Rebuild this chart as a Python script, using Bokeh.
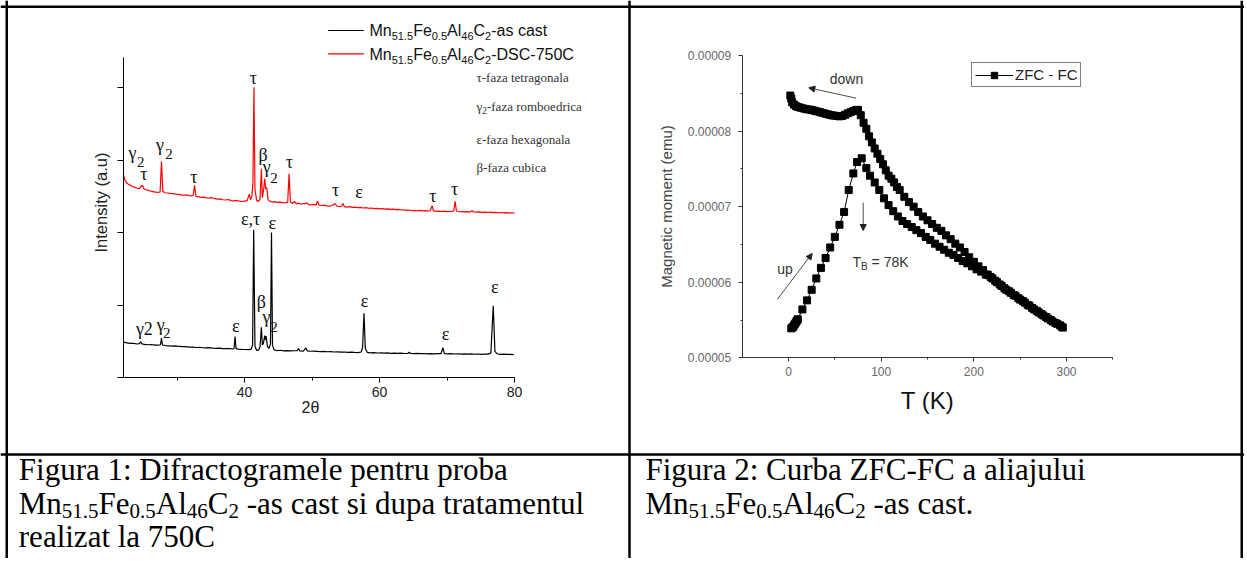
import numpy as np
from bokeh.plotting import figure
from bokeh.models import (Range1d, LinearAxis, FixedTicker, PrintfTickFormatter, Legend,
                          LegendItem, Arrow, NormalHead, ColumnDataSource)
from bokeh.core.properties import value
from bokeh.embed import file_html
from bokeh.resources import INLINE

# ---------------- Figure 1 data: XRD patterns ----------------
as_cast_2theta = [22.1, 22.6, 23.1, 23.6, 24.1, 24.4, 24.6, 24.8, 25.2, 25.7,
                  26.2, 26.7, 27.2, 27.55, 27.7, 27.85, 28.3, 28.8, 29.3, 29.8,
                  30.3, 30.8, 31.3, 31.8, 32.3, 32.8, 33.3, 33.8, 34.3, 34.8,
                  35.3, 35.8, 36.3, 36.8, 37.3, 37.8, 38.3, 38.45, 38.6, 38.75,
                  39.1, 39.6, 40.1, 40.6, 41.0, 41.2, 41.36, 41.55, 41.8, 42.1,
                  42.3, 42.5, 42.65, 42.8, 43.0, 43.1, 43.2, 43.4, 43.6, 43.85,
                  44.0, 44.15, 44.4, 44.8, 45.3, 45.8, 46.3, 46.8, 47.3, 47.8,
                  48.0, 48.2, 48.7, 49.1, 49.3, 49.8, 50.3, 50.8, 51.3, 51.8,
                  52.3, 52.8, 53.3, 53.8, 54.3, 54.8, 55.3, 55.8, 56.3, 56.8,
                  57.3, 57.5, 57.7, 57.9, 58.2, 58.7, 59.2, 59.7, 60.2, 60.7,
                  61.2, 61.7, 62.2, 62.7, 63.2, 63.7, 64.2, 64.4, 64.6, 65.1,
                  65.6, 66.1, 66.6, 67.1, 67.6, 68.1, 68.6, 69.1, 69.4, 69.6,
                  70.1, 70.6, 71.1, 71.6, 72.1, 72.6, 73.1, 73.6, 74.1, 74.6,
                  75.1, 75.6, 76.1, 76.5, 76.85, 77.1, 77.4, 77.9, 78.4, 78.9,
                  79.4, 79.9]
as_cast_I = [487, 478, 472, 470, 462, 468, 492, 463, 458, 452,
             455, 447, 446, 452, 542, 448, 440, 437, 434, 436,
             428, 425, 427, 419, 418, 414, 417, 410, 408, 411,
             404, 402, 405, 398, 397, 399, 393, 400, 566, 398,
             391, 388, 386, 384, 392, 450, 2037, 430, 372, 378,
             420, 694, 450, 470, 579, 520, 570, 430, 400, 460,
             2000, 440, 380, 372, 376, 368, 370, 366, 369, 372,
             400, 366, 364, 408, 366, 362, 365, 360, 358, 361,
             355, 357, 352, 354, 350, 352, 347, 349, 346, 344,
             352, 420, 887, 400, 346, 340, 342, 338, 340, 336,
             339, 334, 337, 333, 335, 331, 334, 348, 332, 330,
             333, 329, 331, 327, 330, 326, 329, 328, 410, 330,
             325, 328, 324, 327, 323, 326, 322, 325, 321, 324,
             320, 323, 322, 340, 989, 360, 328, 320, 322, 318,
             320, 316]

dsc750_2theta = [22.1, 22.3, 22.6, 22.9, 23.2, 23.5, 23.8, 24.1, 24.4, 24.7,
                 24.9, 25.1, 25.4, 25.7, 26.0, 26.3, 26.6, 26.9, 27.2, 27.5,
                 27.7, 27.9, 28.2, 28.6, 29.0, 29.4, 29.8, 30.2, 30.6, 31.0,
                 31.4, 31.8, 32.2, 32.4, 32.6, 32.8, 33.2, 33.6, 34.0, 34.4,
                 34.8, 35.2, 35.6, 36.0, 36.4, 36.8, 37.2, 37.6, 38.0, 38.4,
                 38.8, 39.2, 39.6, 40.0, 40.4, 40.7, 40.9, 41.1, 41.25, 41.4,
                 41.55, 41.8, 42.1, 42.3, 42.5, 42.65, 42.85, 43.0, 43.15, 43.3,
                 43.5, 43.8, 44.1, 44.5, 44.9, 45.3, 45.7, 46.1, 46.4, 46.6,
                 46.8, 47.1, 47.4, 47.7, 48.0, 48.3, 48.7, 49.0, 49.2, 49.5,
                 49.9, 50.3, 50.6, 50.8, 51.0, 51.4, 51.8, 52.2, 52.6, 53.0,
                 53.4, 53.7, 54.1, 54.4, 54.6, 54.8, 55.2, 55.6, 56.0, 56.4,
                 56.8, 57.2, 57.6, 58.0, 58.4, 58.8, 59.2, 59.6, 60.0, 60.4,
                 60.8, 61.2, 61.6, 62.0, 62.4, 62.8, 63.2, 63.6, 64.0, 64.4,
                 64.8, 65.2, 65.6, 66.0, 66.4, 66.8, 67.2, 67.5, 67.8, 68.0,
                 68.4, 68.8, 69.2, 69.6, 70.0, 70.4, 70.8, 71.0, 71.2, 71.4,
                 71.8, 72.2, 72.6, 73.0, 73.4, 73.7, 74.0, 74.4, 74.8, 75.2,
                 75.6, 76.0, 76.4, 76.8, 77.2, 77.6, 78.0, 78.4, 78.8, 79.2,
                 79.6, 80.0]
dsc750_I = [2786, 2720, 2680, 2660, 2645, 2630, 2622, 2610, 2605, 2640,
            2650, 2600, 2590, 2585, 2572, 2568, 2560, 2558, 2552, 2560,
            2980, 2570, 2548, 2545, 2540, 2536, 2530, 2525, 2520, 2514,
            2518, 2508, 2504, 2510, 2650, 2500, 2492, 2484, 2488, 2478,
            2474, 2480, 2466, 2460, 2464, 2452, 2448, 2455, 2440, 2436,
            2442, 2432, 2428, 2434, 2440, 2530, 2450, 2500, 2700, 4004,
            2600, 2440, 2430, 2460, 2880, 2480, 2600, 2740, 2600, 2620,
            2450, 2430, 2420, 2425, 2415, 2418, 2408, 2412, 2420, 2810,
            2420, 2400, 2430, 2395, 2405, 2390, 2400, 2395, 2410, 2385,
            2380, 2388, 2378, 2430, 2380, 2372, 2378, 2368, 2365, 2372,
            2400, 2362, 2358, 2365, 2400, 2356, 2350, 2356, 2346, 2350,
            2342, 2346, 2338, 2342, 2334, 2338, 2330, 2333, 2326, 2330,
            2322, 2326, 2318, 2322, 2315, 2318, 2310, 2314, 2306, 2310,
            2303, 2306, 2300, 2304, 2298, 2301, 2295, 2300, 2370, 2298,
            2292, 2296, 2290, 2294, 2288, 2292, 2290, 2300, 2430, 2296,
            2286, 2290, 2284, 2288, 2282, 2300, 2283, 2280, 2284, 2278,
            2282, 2276, 2280, 2274, 2278, 2272, 2276, 2270, 2274, 2268,
            2272, 2266]

xrd_x_ticks = [40, 60, 80]
xrd_x_minor = [30, 50, 70]
xrd_y_ticks = [0, 1000, 2000, 3000, 4000]

# peak labels: (text, 2theta, intensity, font px)
peak_labels_red = [("γ", 23.39, 3039, 18), ("2", 24.62, 2970, 15), ("τ", 25.1, 2777, 18),
                   ("γ", 27.48, 3154, 18), ("2", 28.81, 3086, 15), ("τ", 32.51, 2741, 18),
                   ("τ", 41.31, 4106, 18), ("β", 42.74, 3048, 18), ("γ", 43.29, 2855, 18),
                   ("2", 44.37, 2754, 15), ("τ", 46.65, 2948, 18), ("τ", 53.51, 2556, 18),
                   ("ε", 56.96, 2534, 18), ("τ", 67.92, 2473, 18), ("τ", 71.14, 2579, 18)]
peak_labels_black = [("γ2", 25.17, 641, 18), ("γ", 27.58, 672, 18), ("2", 28.47, 611, 15),
                     ("ε", 38.69, 680, 18), ("ε,τ", 40.91, 2156, 18), ("ε", 44.13, 2110, 18),
                     ("β", 42.5, 1017, 18), ("γ", 43.24, 786, 18), ("2", 44.37, 703, 15),
                     ("ε", 57.8, 1025, 18), ("ε", 69.8, 570, 18), ("ε", 77.06, 1223, 18)]

# ---------------- Figure 2 data: ZFC - FC ----------------
fc_T = [2, 3, 4, 6, 8, 10, 13, 16, 19, 22, 25, 28, 31, 34, 37, 40, 43, 46, 49, 52, 55, 58,
        61, 64, 67, 70, 73, 75, 78, 81, 84, 87, 90, 93, 96, 99, 102, 105, 108, 111, 114, 117,
        120, 125, 130, 135, 140, 145, 150, 155, 160, 165, 170, 175, 180, 185, 190, 195, 200,
        205, 210, 215, 220, 225, 230, 235, 240, 245, 250, 255, 260, 265, 270, 275, 280, 285,
        290, 295]
fc_M_1e5 = [8.47, 8.43, 8.38, 8.35, 8.33, 8.32, 8.31, 8.30, 8.29, 8.285, 8.28, 8.27, 8.26,
            8.25, 8.24, 8.23, 8.22, 8.21, 8.205, 8.20, 8.195, 8.20, 8.215, 8.235, 8.25, 8.265,
            8.28, 8.28, 8.21, 8.11, 8.03, 7.93, 7.85, 7.77, 7.70, 7.63, 7.56, 7.48, 7.41, 7.37,
            7.32, 7.26, 7.22, 7.13, 7.06, 7.00, 6.93, 6.87, 6.82, 6.77, 6.72, 6.68, 6.62, 6.57,
            6.51, 6.46, 6.40, 6.33, 6.27, 6.21, 6.16, 6.10, 6.05, 6.00, 5.95, 5.90, 5.86, 5.82,
            5.77, 5.73, 5.69, 5.64, 5.60, 5.56, 5.52, 5.48, 5.45, 5.41]
zfc_T = [3, 4, 5, 6, 7, 8, 9, 10, 15, 20, 25, 30, 35, 40, 45, 50, 55, 60, 65, 70, 74, 79, 84,
         88, 93, 98, 103, 108, 113, 118, 123, 128, 133, 138, 143, 148, 153, 158, 163, 168, 173,
         178, 183, 188, 193, 198, 203, 208, 213, 218, 223, 228, 233, 238, 243, 248, 253, 258,
         263, 268, 273, 278, 283, 288, 293, 296]
zfc_M_1e5 = [5.39, 5.40, 5.41, 5.43, 5.45, 5.47, 5.49, 5.51, 5.64, 5.76, 5.90, 6.05, 6.19,
             6.32, 6.46, 6.60, 6.76, 6.93, 7.22, 7.44, 7.59, 7.64, 7.51, 7.41, 7.32, 7.22,
             7.11, 7.02, 6.94, 6.87, 6.81, 6.77, 6.73, 6.69, 6.65, 6.60, 6.56, 6.51, 6.47,
             6.43, 6.39, 6.36, 6.32, 6.28, 6.25, 6.21, 6.17, 6.14, 6.10, 6.07, 6.02, 5.97,
             5.92, 5.88, 5.83, 5.79, 5.75, 5.70, 5.66, 5.62, 5.58, 5.54, 5.50, 5.46, 5.43, 5.40]
mag_y_ticks = [5e-5, 6e-5, 7e-5, 8e-5, 9e-5]
mag_y_minor = [5.5e-5, 6.5e-5, 7.5e-5, 8.5e-5]
mag_x_ticks = [0, 100, 200, 300]
mag_x_minor = [50, 150, 250, 350]

# ---------------- text metrics (Arial / Times compatible) ----------------
SANS_W = {' ': .278, '-': .333, '.': .278, '=': .584, 'A': .667, 'B': .667, 'C': .722,
          'D': .722, 'F': .611, 'K': .667, 'M': .833, 'S': .667, 'T': .611, 'a': .556,
          'c': .5, 'e': .556, 'l': .222, 'n': .556, 's': .5, 't': .278}
SERIF_W = {' ': .25, '-': .333, '.': .25, ':': .278, 'A': .722, 'C': .667, 'F': .556, 'M': .889,
           'Z': .611, 'a': .444, 'b': .5, 'c': .444, 'd': .5, 'e': .444, 'f': .333, 'g': .5,
           'i': .278, 'j': .278, 'l': .278, 'm': .778, 'n': .5, 'o': .5, 'p': .5, 'r': .333,
           's': .389, 't': .278, 'u': .5, 'x': .5, 'z': .444, 'γ': .42}
for d in "0123456789":
    SANS_W[d] = .556
    SERIF_W[d] = .5

FORMULA = [("Mn", 0), ("51.5", 1), ("Fe", 0), ("0.5", 1), ("Al", 0), ("46", 1), ("C", 0), ("2", 1)]

W, H = 1244, 558
SANS = "Liberation Sans"
SERIF = "Liberation Serif"
MID = {SANS: 0.35, SERIF: 0.34}   # em distance from baseline up to the text's middle

p = figure(width=W, height=H, x_range=Range1d(0, W), y_range=Range1d(H, 0),
           x_axis_location=None, y_axis_location=None, toolbar_location=None, tools="",
           output_backend="svg", min_border=0, outline_line_color=None,
           background_fill_color="white", border_fill_color="white")
p.min_border_left = p.min_border_right = p.min_border_top = p.min_border_bottom = 0
for g in p.grid:
    g.visible = False

# coordinate systems of the two charts, placed on the page canvas
s1x, s1y = 6.75, 0.0725          # px per degree, px per count
x1_0 = 40 - 244 / s1x
p.extra_x_ranges["x1"] = Range1d(x1_0, x1_0 + W / s1x)
p.extra_y_ranges["y1"] = Range1d(-(H - 377) / s1y, 377 / s1y)
s2x, s2y = 0.92667, 75.575e5     # px per K, px per emu
p.extra_x_ranges["x2"] = Range1d(-788 / s2x, (W - 788) / s2x)
p.extra_y_ranges["y2"] = Range1d(5e-5 - (H - 357.3) / s2y, 5e-5 + 357.3 / s2y)

# ---------------- table grid ----------------
p.segment(x0=[0, 6.25, 1241.25, 629, 0], y0=[6.25, 0, 0, 0, 454],
          x1=[W, 6.25, 1241.25, 629, W], y1=[6.25, H, H, H, 454],
          line_color="black", line_width=2.5)


def add_texts(items, font, color, align="left", angle=0.0, **rng):
    # items: (x, y, text, size_px, y_offset_px); y is the em-middle of the text
    src = ColumnDataSource(dict(x=[i[0] for i in items], y=[i[1] for i in items],
                                t=[i[2] for i in items], fs=["%gpx" % i[3] for i in items],
                                dy=[i[4] if len(i) > 4 else 0 for i in items]))
    p.text(x="x", y="y", text="t", source=src, text_font=value(font), text_font_size="fs",
           text_color=color, text_align=align, text_baseline="middle", y_offset="dy",
           angle=angle, **rng)


def line_text(x0, baseline, parts, font, table, size, subsize=0, subdy=0):
    """Lay a line of runs (text, is_subscript) from its baseline (page px)."""
    out, x = [], x0
    for s, sub in parts:
        fs = subsize if sub else size
        lead = len(s) - len(s.lstrip(" "))
        x += lead * table[" "] * fs
        s = s.lstrip(" ")
        yb = baseline + (subdy if sub else 0)
        out.append((x, yb - MID[font] * fs, s, fs))
        x += sum(table.get(c, 0.5) for c in s) * fs
    return out


# ---------------- Chart 1: XRD ----------------
p.line(as_cast_2theta, as_cast_I, x_range_name="x1", y_range_name="y1",
       line_color="black", line_width=1.2)
p.line(dsc750_2theta, dsc750_I, x_range_name="x1", y_range_name="y1",
       line_color="#ff0000", line_width=1.2)

ax1y = LinearAxis(x_range_name="x1", y_range_name="y1", fixed_location=22.1, bounds=(0, 4414),
                  ticker=FixedTicker(ticks=[], minor_ticks=xrd_y_ticks),
                  major_tick_out=0, major_tick_in=0, minor_tick_out=6, minor_tick_in=0,
                  axis_line_color="black", minor_tick_line_color="black")
p.add_layout(ax1y, "left")
ax1x = LinearAxis(x_range_name="x1", y_range_name="y1", fixed_location=0, bounds=(22.1, 80),
                  ticker=FixedTicker(ticks=xrd_x_ticks, minor_ticks=xrd_x_minor),
                  major_label_text_font=SANS,
                  major_label_text_font_size="14px", major_label_text_color="#222",
                  major_label_standoff=4, major_tick_out=5, major_tick_in=0,
                  minor_tick_out=3, minor_tick_in=0, axis_line_color="black",
                  major_tick_line_color="black", minor_tick_line_color="black")
p.add_layout(ax1x, "below")

# axis titles of chart 1
add_texts([(100.5, 202, "Intensity (a.u)", 16.5)], SANS, "#222", align="center", angle=np.pi / 2)
add_texts([(310, 407, "2θ", 16)], SANS, "#222", align="center")

# peak labels: small lift so that the glyphs (not their em box) sit on the read positions
LIFT = {"γ": -4, "γ2": -2, "β": -2, "τ": -2, "ε": -2, "ε,τ": -2, "2": 0}
add_texts([(x, y, t, s, LIFT.get(t, 0)) for t, x, y, s in peak_labels_red + peak_labels_black],
          SERIF, "#111", align="center", x_range_name="x1", y_range_name="y1")

# legend of chart 1
p.segment(x0=[327.7], y0=[30], x1=[363.3], y1=[30], line_color="black", line_width=1.2)
p.segment(x0=[327.7], y0=[53.3], x1=[363.3], y1=[53.3], line_color="#ff0000", line_width=1.2)
leg = line_text(369, 36, FORMULA + [("-as cast", 0)], SANS, SANS_W, 16, 11, 3.5)
leg += line_text(369, 59.5, FORMULA + [("-DSC-750C", 0)], SANS, SANS_W, 16, 11, 3.5)
add_texts(leg, SANS, "#111")

# phase descriptions
phase = line_text(476, 81.7, [("τ-faza tetragonala", 0)], SERIF, SERIF_W, 13)
phase += line_text(476, 110.7, [("γ", 0), ("2", 1), ("-faza romboedrica", 0)], SERIF, SERIF_W, 13, 10, 3)
phase += line_text(476, 143.3, [("ε-faza hexagonala", 0)], SERIF, SERIF_W, 13)
phase += line_text(476, 171, [("β-faza cubica", 0)], SERIF, SERIF_W, 13)
add_texts(phase, SERIF, "#333")

# ---------------- Chart 2: ZFC - FC ----------------
M_fc = np.array(fc_M_1e5) * 1e-5
M_zfc = np.array(zfc_M_1e5) * 1e-5
l1 = p.line(zfc_T, M_zfc, x_range_name="x2", y_range_name="y2", line_color="black", line_width=1)
s1 = p.scatter(zfc_T, M_zfc, x_range_name="x2", y_range_name="y2", marker="square", size=7,
               color="black")
l2 = p.line(fc_T, M_fc, x_range_name="x2", y_range_name="y2", line_color="black", line_width=1)
s2 = p.scatter(fc_T, M_fc, x_range_name="x2", y_range_name="y2", marker="square", size=7,
               color="black")

ax2y = LinearAxis(x_range_name="x2", y_range_name="y2", fixed_location=-50, bounds=(5e-5, 9e-5),
                  ticker=FixedTicker(ticks=mag_y_ticks, minor_ticks=mag_y_minor),
                  formatter=PrintfTickFormatter(format="%.5f"),
                  axis_label="Magnetic moment (emu)", axis_label_text_font=SANS,
                  axis_label_text_font_size="15px", axis_label_text_font_style="normal",
                  axis_label_text_color="#444", axis_label_standoff=10,
                  major_label_text_font=SANS, major_label_text_font_size="12px",
                  major_label_text_color="#666", major_label_standoff=7,
                  major_tick_out=4, major_tick_in=0, minor_tick_out=2, minor_tick_in=0,
                  axis_line_color="#333", major_tick_line_color="#333",
                  minor_tick_line_color="#333")
p.add_layout(ax2y, "left")
ax2x = LinearAxis(x_range_name="x2", y_range_name="y2", fixed_location=5e-5, bounds=(-50, 350),
                  ticker=FixedTicker(ticks=mag_x_ticks, minor_ticks=mag_x_minor),
                  axis_label="T (K)", axis_label_text_font=SANS, axis_label_text_font_size="24px",
                  axis_label_text_font_style="normal", axis_label_text_color="#111",
                  axis_label_standoff=8, major_label_text_font=SANS,
                  major_label_text_font_size="12px", major_label_text_color="#666",
                  major_label_standoff=5, major_tick_out=4, major_tick_in=0,
                  minor_tick_out=2, minor_tick_in=0, axis_line_color="#333",
                  major_tick_line_color="#333", minor_tick_line_color="#333")
p.add_layout(ax2x, "below")

legend = Legend(items=[LegendItem(label="ZFC - FC", renderers=[l1, s1])], location=(971, H - 87),
                border_line_color="black", border_line_width=1, background_fill_color="white",
                padding=3, margin=0, spacing=0, glyph_width=38, glyph_height=16,
                label_height=16, label_standoff=2, label_text_font=SANS,
                label_text_font_size="15px", label_text_color="#222")
p.add_layout(legend)

notes = line_text(829.3, 83, [("down", 0)], SANS, SANS_W, 14)
notes += line_text(776.7, 273, [("up", 0)], SANS, SANS_W, 14)
notes += line_text(852, 266.7, [("T", 0), ("B", 1), (" = 78K", 0)], SANS, SANS_W, 14, 10, 3)
add_texts(notes, SANS, "#333")

for xs, ys, xe, ye in [(855.7, 97.7, 808.3, 87.3), (776.7, 299, 811.7, 253),
                       (862.7, 202, 862.7, 230)]:
    p.add_layout(Arrow(end=NormalHead(size=6, fill_color="#222", line_color="#222"),
                       x_start=xs, y_start=ys, x_end=xe, y_end=ye,
                       line_color="#222", line_width=0.8))

# ---------------- captions ----------------
cap = line_text(18.3, 480, [("Figura 1: Difractogramele pentru proba", 0)], SERIF, SERIF_W, 31)
cap += line_text(18.3, 513.5, FORMULA + [(" -as cast si dupa tratamentul", 0)], SERIF, SERIF_W, 31, 21, 4)
cap += line_text(18.3, 547, [("realizat la 750C", 0)], SERIF, SERIF_W, 31)
cap += line_text(645, 480, [("Figura 2: Curba ZFC-FC a aliajului", 0)], SERIF, SERIF_W, 31)
cap += line_text(645, 513.5, FORMULA + [(" -as cast.", 0)], SERIF, SERIF_W, 31, 21, 4)
add_texts(cap, SERIF, "black")

open("out.html", "w").write(file_html(p, INLINE))
